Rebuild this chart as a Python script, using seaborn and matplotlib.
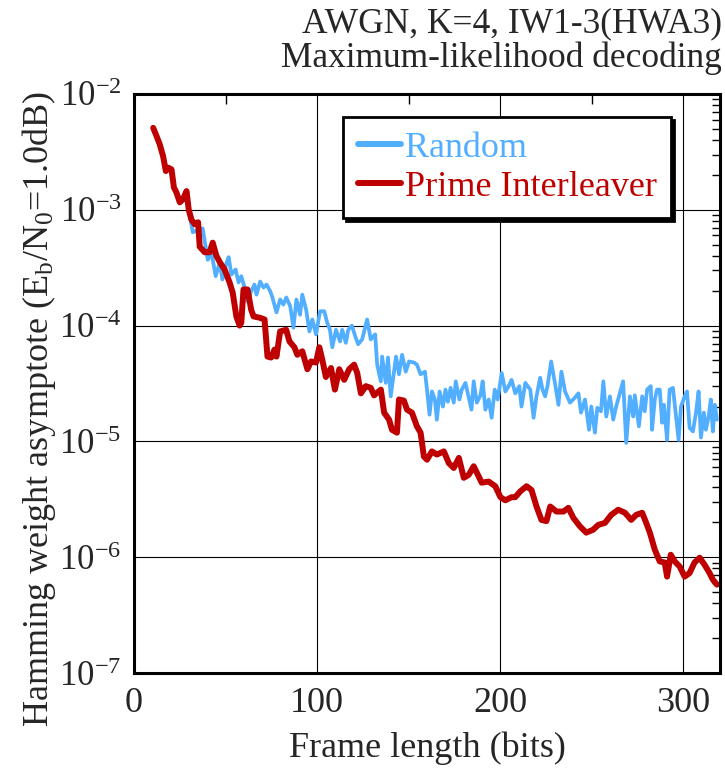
import matplotlib
matplotlib.use("Agg")
import matplotlib.pyplot as plt
from matplotlib.ticker import MultipleLocator, LogLocator, NullFormatter
import seaborn as sns
import pandas as pd

# frame length (bits) and asymptote values
red_x = [10.5, 12.4, 14.1, 15.9, 17.4, 18.7, 20.5, 21.8, 23.2, 25.0, 26.7, 28.7, 29.9,
         31.4, 33.2, 35.0, 35.9, 38.6, 41.3, 43.0, 45.0, 47.0, 49.5, 52.2, 53.9, 55.9,
         57.7, 58.6, 59.8, 62.0, 64.0, 65.3, 68.6, 71.3, 72.9, 74.9, 76.7, 77.8, 79.8,
         83.1, 84.9, 87.6, 89.2, 91.9, 94.7, 96.7, 99.4, 101.2, 102.8, 104.8, 107.6,
         109.7, 112.1, 114.8, 117.5, 120.2, 121.9, 123.9, 126.6, 129.3, 131.1, 134.8,
         136.6, 139.3, 140.9, 143.6, 144.7, 147.4, 149.1, 151.8, 154.5, 156.5, 158.3,
         160.0, 162.7, 165.4, 169.2, 171.9, 174.6, 177.4, 180.1, 182.8, 185.5, 188.2,
         189.9, 193.7, 197.3, 200.1, 202.8, 206.2, 208.2, 210.9, 214.4, 217.1, 219.8,
         222.5, 225.2, 227.3, 230.7, 234.5, 237.2, 239.9, 243.6, 247.0, 250.8, 253.5,
         257.2, 260.6, 264.4, 268.1, 271.5, 274.2, 277.5, 279.7, 281.7, 284.4, 287.1,
         289.8, 291.1, 293.1, 295.3, 298.0, 300.7, 303.4, 306.1, 308.9, 311.6, 314.3,
         316.1, 318.3]
red_y = [5.1e-3, 4.3e-3, 3.66e-3, 2.9e-3, 2.16e-3, 2.31e-3, 2.23e-3, 1.56e-3, 1.41e-3,
         1.16e-3, 1.23e-3, 1.45e-3, 1.0e-3,
         8.2e-4, 7.5e-4, 7.8e-4, 4.8e-4, 4.3e-4, 4.3e-4, 5.2e-4, 4.0e-4, 3.5e-4, 3.05e-4,
         2.36e-4, 1.93e-4, 1.2e-4, 1.0e-4, 1.06e-4, 2.05e-4, 2.05e-4, 1.37e-4, 1.2e-4,
         1.17e-4, 1.13e-4, 5.4e-5, 5.3e-5, 6.2e-5, 5.4e-5, 8.9e-5, 9.2e-5, 7.3e-5, 6.5e-5,
         5.6e-5, 6.0e-5, 4.2e-5, 4.9e-5, 4.8e-5, 6.5e-5, 5.1e-5, 3.6e-5, 4.3e-5, 2.8e-5,
         4.2e-5, 3.4e-5, 4.2e-5, 4.6e-5, 3.9e-5, 2.6e-5, 3.0e-5, 2.9e-5, 2.5e-5, 2.8e-5,
         1.77e-5, 1.54e-5, 1.26e-5, 1.19e-5, 2.3e-5, 2.25e-5, 1.88e-5, 1.77e-5, 1.35e-5,
         1.19e-5, 7.4e-6, 6.95e-6, 8.2e-6, 7.7e-6, 8.2e-6, 6.5e-6, 5.9e-6, 7.2e-6, 4.85e-6,
         5.15e-6, 6.1e-6, 5.0e-6, 4.4e-6, 4.5e-6, 4.1e-6, 3.3e-6, 3.1e-6, 3.3e-6, 3.3e-6,
         3.7e-6, 4.1e-6, 3.8e-6, 2.74e-6, 2.1e-6, 2.05e-6, 2.74e-6, 2.48e-6, 2.48e-6,
         2.67e-6, 2.19e-6, 1.84e-6, 1.63e-6, 1.73e-6, 1.9e-6, 1.98e-6, 2.32e-6, 2.57e-6,
         2.42e-6, 2.1e-6, 2.32e-6, 2.42e-6, 1.98e-6, 1.63e-6, 1.16e-6, 9.2e-7, 9.0e-7,
         6.8e-7, 1.05e-6, 9.2e-7, 8.3e-7, 6.8e-7, 7.3e-7, 9.0e-7, 9.9e-7, 8.6e-7, 7.3e-7,
         6.4e-7, 5.8e-7]

blue_x = [10.5, 12.4, 14.1, 15.9, 17.4, 18.7, 20.5, 21.8, 23.2, 25.0, 26.7, 28.7, 29.9,
          32.1, 37.5, 40.3, 42.3, 44.6, 46.8, 48.3, 50.6, 51.7, 53.2, 55.5, 57.1, 58.6,
          60.4, 62.0, 64.0, 65.8, 66.9, 68.9, 70.7, 72.4, 74.4, 75.6, 77.8, 79.8, 81.6,
          83.2, 85.3, 87.1, 88.7, 90.7, 91.9, 94.0, 95.8, 97.4, 99.4, 101.6, 103.9, 105.5,
          107.0, 108.3, 110.3, 112.5, 113.7, 115.7, 117.0, 119.0, 120.8, 122.4, 124.6,
          127.3, 129.3, 131.7, 132.8, 134.8, 135.5, 137.5, 138.7, 140.2, 142.0, 143.1,
          144.7, 146.4, 148.4, 150.2, 152.9, 154.5, 156.5, 158.9, 160.0, 161.4, 162.7,
          164.3, 165.4, 166.9, 168.7, 170.1, 171.4, 172.9, 174.6, 175.7, 177.7, 179.0,
          181.0, 182.3, 184.3, 185.5, 187.2, 189.2, 190.4, 191.9, 193.7, 195.3, 197.0,
          198.6, 200.8, 202.8, 204.6, 206.2, 208.2, 210.4, 211.6, 213.7, 216.4, 218.2,
          219.8, 221.8, 223.1, 224.5, 225.8, 227.8, 230.0, 231.8, 233.4, 235.4, 238.1,
          240.9, 242.7, 244.1, 246.3, 248.5, 249.7, 251.7, 253.0, 255.0, 256.3, 257.9,
          259.9, 261.7, 263.3, 265.3, 267.1, 268.8, 270.8, 272.6, 273.5, 275.7, 277.5,
          278.9, 280.2, 282.2, 282.9, 284.4, 285.6, 287.1, 288.4, 289.4, 291.1, 292.5,
          294.3, 296.0, 297.4, 298.7, 300.7, 302.0, 303.4, 305.2, 306.9, 308.3, 309.6,
          311.2, 312.3, 313.8, 315.0, 316.1, 317.2, 318.3]
blue_y = [5.1e-3, 4.3e-3, 3.66e-3, 2.9e-3, 2.16e-3, 2.31e-3, 2.23e-3, 1.56e-3, 1.41e-3,
          1.16e-3, 1.23e-3, 1.45e-3, 1.0e-3,
          6.4e-4, 6.9e-4, 3.7e-4, 4.3e-4, 2.67e-4, 3.5e-4, 2.5e-4, 3.5e-4, 3.9e-4, 2.76e-4,
          3.05e-4, 2.36e-4, 2.67e-4, 2.13e-4, 1.62e-4, 1.98e-4, 2.26e-4, 1.85e-4, 2.4e-4,
          2.13e-4, 2.26e-4, 1.98e-4, 1.75e-4, 1.3e-4, 1.68e-4, 1.52e-4, 1.75e-4, 1.47e-4,
          9.6e-5, 1.68e-4, 1.24e-4, 1.85e-4, 1.37e-4, 8.9e-5, 1.13e-4, 8.4e-5, 1.33e-4,
          1.33e-4, 1.06e-4, 9.2e-5, 6.5e-5, 9.2e-5, 7.3e-5, 9.2e-5, 7.1e-5, 9.2e-5, 1.0e-4,
          8.1e-5, 6.9e-5, 7.6e-5, 1.13e-4, 7.6e-5, 8.4e-5, 4.6e-5, 3.3e-5, 5.4e-5, 3.2e-5,
          5.3e-5, 2.45e-5, 4.0e-5, 5.4e-5, 3.8e-5, 5.6e-5, 4.0e-5, 4.9e-5, 4.8e-5, 4.6e-5,
          3.8e-5, 4.0e-5, 2.8e-5, 1.7e-5, 2.7e-5, 2.3e-5, 1.54e-5, 2.7e-5, 2.0e-5, 2.8e-5,
          2.2e-5, 2.9e-5, 2.16e-5, 3.3e-5, 2.3e-5, 2.8e-5, 3.2e-5, 2.6e-5, 1.88e-5, 3.3e-5,
          2.16e-5, 2.5e-5, 3.3e-5, 1.88e-5, 2.3e-5, 1.6e-5, 2.8e-5, 2.3e-5, 3.9e-5, 2.7e-5,
          3.0e-5, 3.4e-5, 2.6e-5, 3.0e-5, 2.0e-5, 3.2e-5, 2.8e-5, 1.6e-5, 2.45e-5, 3.55e-5,
          2.8e-5, 2.45e-5, 3.0e-5, 4.9e-5, 3.1e-5, 2.07e-5, 4.0e-5, 2.7e-5, 2.16e-5, 2.4e-5,
          2.6e-5, 1.77e-5, 2.3e-5, 1.26e-5, 2.0e-5, 1.19e-5, 1.95e-5, 1.82e-5, 3.3e-5,
          1.64e-5, 2.45e-5, 1.54e-5, 2.0e-5, 2.6e-5, 3.3e-5, 9.7e-6, 2.45e-5, 1.64e-5,
          2.5e-5, 1.35e-5, 2.45e-5, 1.82e-5, 2.8e-5, 3.0e-5, 1.26e-5, 2.3e-5, 2.8e-5,
          2.8e-5, 1.45e-5, 2.07e-5, 1.03e-5, 2.8e-5, 2.9e-5, 1.64e-5, 1.03e-5, 2.0e-5,
          2.45e-5, 2.7e-5, 1.31e-5, 1.22e-5, 1.77e-5, 2.7e-5, 1.08e-5, 1.77e-5, 1.26e-5,
          1.64e-5, 2.3e-5, 1.22e-5, 2.07e-5, 1.54e-5]

x_ticks = [0, 100, 200, 300]
series_names = ["Random", "Prime Interleaver"]
title_lines = ["AWGN, K=4, IW1-3(HWA3)", "Maximum-likelihood decoding"]

blue = "#52AEFF"
red = "#BE0000"

sns.set_style("white")
plt.rcParams["font.family"] = ["Liberation Serif", "DejaVu Serif"]
plt.rcParams["mathtext.fontset"] = "custom"
plt.rcParams["mathtext.rm"] = "Liberation Serif"
plt.rcParams["mathtext.it"] = "Liberation Serif:italic"

df_blue = pd.DataFrame({"bits": blue_x, "value": blue_y})
df_red = pd.DataFrame({"bits": red_x, "value": red_y})

fig = plt.figure(figsize=(7.25, 7.69), dpi=100)
ax = fig.add_axes([0.1848, 0.1248, 0.8083, 0.753])

sns.lineplot(data=df_blue, x="bits", y="value", color=blue, linewidth=2.7,
             estimator=None, sort=False, label=series_names[0], ax=ax)
sns.lineplot(data=df_red, x="bits", y="value", color=red, linewidth=4.3,
             estimator=None, sort=False, label=series_names[1], ax=ax)

ax.set_yscale("log")
ax.set_xlim(0, 320)
ax.set_ylim(1e-7, 1e-2)
ax.set_xticks(x_ticks)
ax.xaxis.set_minor_locator(MultipleLocator(50))
ax.yaxis.set_minor_locator(LogLocator(base=10, subs=range(2, 10)))
ax.yaxis.set_minor_formatter(NullFormatter())

ax.grid(True, which="major", color="black", linewidth=0.8)
ax.tick_params(which="both", direction="in", top=True, right=True, color="black")
ax.tick_params(which="major", length=0)
ax.tick_params(axis="x", which="major", pad=10, labelsize=26)
ax.tick_params(axis="y", which="major", pad=9, labelsize=25)
ax.tick_params(axis="x", which="minor", length=7, width=1)
ax.tick_params(axis="y", which="minor", length=6, width=1)
for sp in ax.spines.values():
    sp.set_color("black")
    sp.set_linewidth(2.2)

ax.set_xlabel("Frame length (bits)", fontsize=26, labelpad=8)
ax.set_ylabel(r"Hamming weight asymptote (E$_\mathregular{b}$/N$_\mathregular{0}$=1.0dB)",
              fontsize=26)
ax.yaxis.set_label_coords(-0.13, 0.457)

# two title lines, right aligned to the figure edge
fig.text(722 / 725, 1 - 32 / 769, title_lines[0], ha="right", va="baseline", fontsize=25.5)
fig.text(722 / 725, 1 - 67 / 769, title_lines[1], ha="right", va="baseline", fontsize=25.5)

leg = ax.legend(loc="upper left", bbox_to_anchor=(0.357, 0.96), borderaxespad=0,
                fontsize=26, fancybox=False, frameon=True, handlelength=1.2,
                handletextpad=0.1, labelspacing=0.15, borderpad=0.4,
                shadow={"color": "black", "alpha": 1.0})
leg.get_frame().set_edgecolor("black")
leg.get_frame().set_linewidth(2)
leg.get_frame().set_alpha(1)
for txt, line in zip(leg.get_texts(), leg.get_lines()):
    txt.set_color(line.get_color())
    line.set_linewidth(4.3)

fig.savefig("out.png", dpi=100)
